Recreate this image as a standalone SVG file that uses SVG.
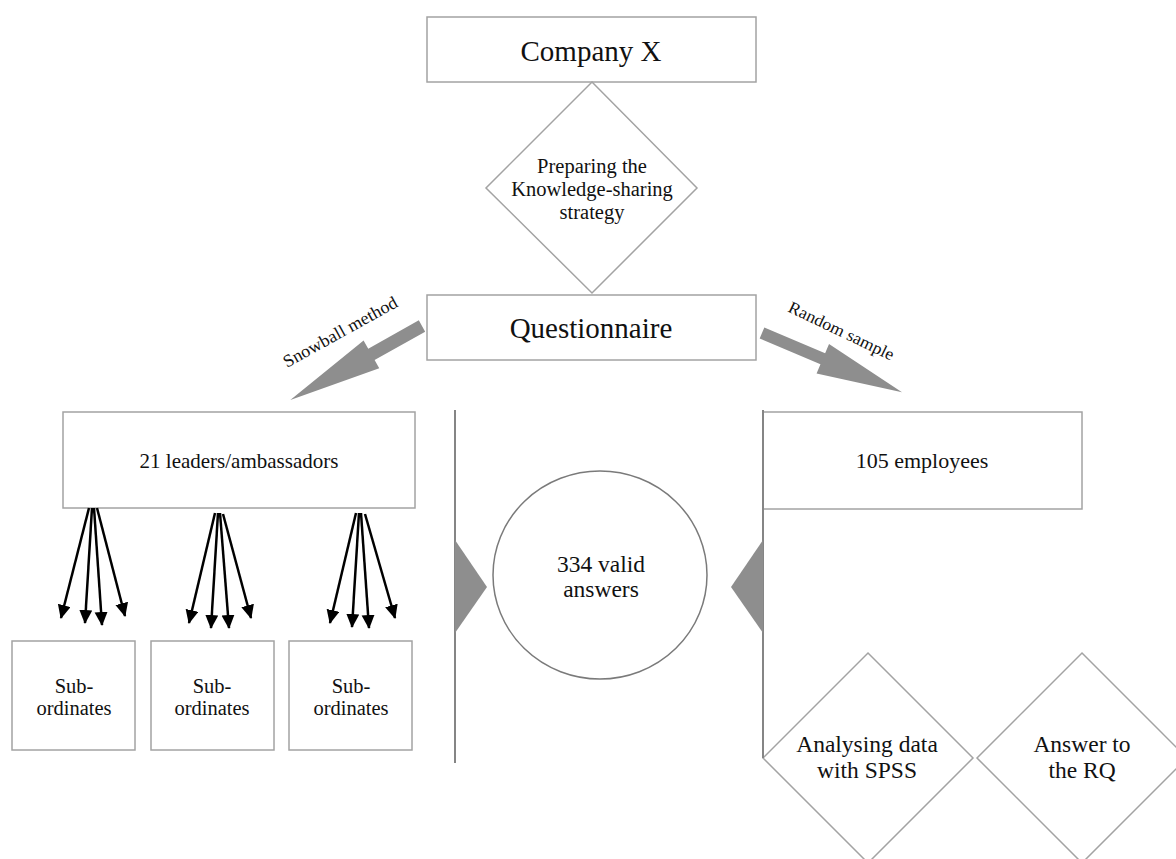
<svg xmlns="http://www.w3.org/2000/svg" width="1176" height="859" viewBox="0 0 1176 859">
<style>
.box{fill:#fff;stroke:#a3a3a3;stroke-width:1.5}
.dia{fill:#fff;stroke:#a3a3a3;stroke-width:1.5}
.t{font-family:"Liberation Serif","Times New Roman",serif;fill:#111;text-anchor:middle}
.block{fill:#8e8e8e}
.vline{stroke:#858585;stroke-width:2;fill:none}
.blk{stroke:#000;stroke-width:2.5;fill:none;marker-end:url(#ah)}
</style>
<defs>
<marker id="ah" markerUnits="userSpaceOnUse" markerWidth="16" markerHeight="14" refX="13" refY="6.5" orient="auto" viewBox="0 0 16 14">
<path d="M0,0 L14,6.5 L0,13 z" fill="#000"/>
</marker>
</defs>
<rect width="1176" height="859" fill="#fff"/>

<g id="company-x">
<rect class="box" x="427" y="17" width="329" height="65"/>
<text class="t" x="591" y="61" font-size="29">Company X</text>
</g>

<g id="preparing">
<polygon class="dia" points="592,82 697,188 592,293 486,188"/>
<text class="t" x="592" y="173" font-size="20.5">Preparing the</text>
<text class="t" x="592" y="196" font-size="20.5">Knowledge-sharing</text>
<text class="t" x="592" y="219" font-size="20.5">strategy</text>
</g>

<g id="questionnaire">
<rect class="box" x="427" y="295" width="329" height="65"/>
<text class="t" x="591" y="338" font-size="29">Questionnaire</text>
</g>

<g id="leaders">
<rect class="box" x="63" y="412" width="352" height="96"/>
<text class="t" x="239" y="468" font-size="21">21 leaders/ambassadors</text>
</g>

<g id="employees">
<rect class="box" x="763" y="412" width="319" height="97"/>
<text class="t" x="922" y="468" font-size="22">105 employees</text>
</g>

<g id="valid-answers">
<ellipse cx="600" cy="575" rx="107" ry="104" fill="#fff" stroke="#7a7a7a" stroke-width="1.5"/>
<text class="t" x="601" y="572" font-size="23.5">334 valid</text>
<text class="t" x="601" y="597" font-size="23.5">answers</text>
</g>

<g id="sub1">
<rect class="box" x="12" y="641" width="123" height="109"/>
<text class="t" x="74" y="693" font-size="20.5">Sub-</text>
<text class="t" x="74" y="715" font-size="20.5">ordinates</text>
</g>
<g id="sub2">
<rect class="box" x="151" y="641" width="123" height="109"/>
<text class="t" x="212" y="693" font-size="20.5">Sub-</text>
<text class="t" x="212" y="715" font-size="20.5">ordinates</text>
</g>
<g id="sub3">
<rect class="box" x="289" y="641" width="123" height="109"/>
<text class="t" x="351" y="693" font-size="20.5">Sub-</text>
<text class="t" x="351" y="715" font-size="20.5">ordinates</text>
</g>

<g id="analysing">
<polygon class="dia" points="868,653 973,758 868,863 763,758"/>
<text class="t" x="867" y="752" font-size="23.5">Analysing data</text>
<text class="t" x="867" y="778" font-size="23.5">with SPSS</text>
</g>

<g id="answer-rq">
<polygon class="dia" points="1082,653 1187,758 1082,863 977,758"/>
<text class="t" x="1082" y="752" font-size="23.5">Answer to</text>
<text class="t" x="1082" y="778" font-size="23.5">the RQ</text>
</g>

<g id="connectors">
<polygon class="block" transform="translate(422,326) rotate(150.7)" points="0,-6.5 58,-6.5 58,-16 151,0 58,16 58,6.5 0,6.5"/>
<text class="t" transform="translate(343,337) rotate(-29)" font-size="17.5" textLength="128" lengthAdjust="spacingAndGlyphs">Snowball method</text>
<polygon class="block" transform="translate(762,333) rotate(22.9)" points="0,-6 66,-6 66,-16 152,0 66,16 66,6 0,6"/>
<text class="t" transform="translate(839,336) rotate(25.5)" font-size="17" textLength="115" lengthAdjust="spacingAndGlyphs">Random sample</text>

<line class="vline" x1="455" y1="410" x2="455" y2="763"/>
<polygon class="block" points="455,540 487,587 455,633"/>
<line class="vline" x1="763" y1="410" x2="763" y2="758"/>
<polygon class="block" points="763,540 731,587 763,633"/>

<line class="blk" x1="89" y1="508" x2="61" y2="618"/>
<line class="blk" x1="92" y1="508" x2="85" y2="623"/>
<line class="blk" x1="94" y1="508" x2="102" y2="625"/>
<line class="blk" x1="97" y1="508" x2="125" y2="616"/>

<line class="blk" x1="215" y1="513" x2="189" y2="623"/>
<line class="blk" x1="218" y1="513" x2="211" y2="628"/>
<line class="blk" x1="220" y1="513" x2="229" y2="628"/>
<line class="blk" x1="223" y1="514" x2="251" y2="618"/>

<line class="blk" x1="356" y1="513" x2="330" y2="623"/>
<line class="blk" x1="359" y1="513" x2="352" y2="627"/>
<line class="blk" x1="361" y1="513" x2="369" y2="628"/>
<line class="blk" x1="365" y1="514" x2="395" y2="618"/>
</g>
</svg>
